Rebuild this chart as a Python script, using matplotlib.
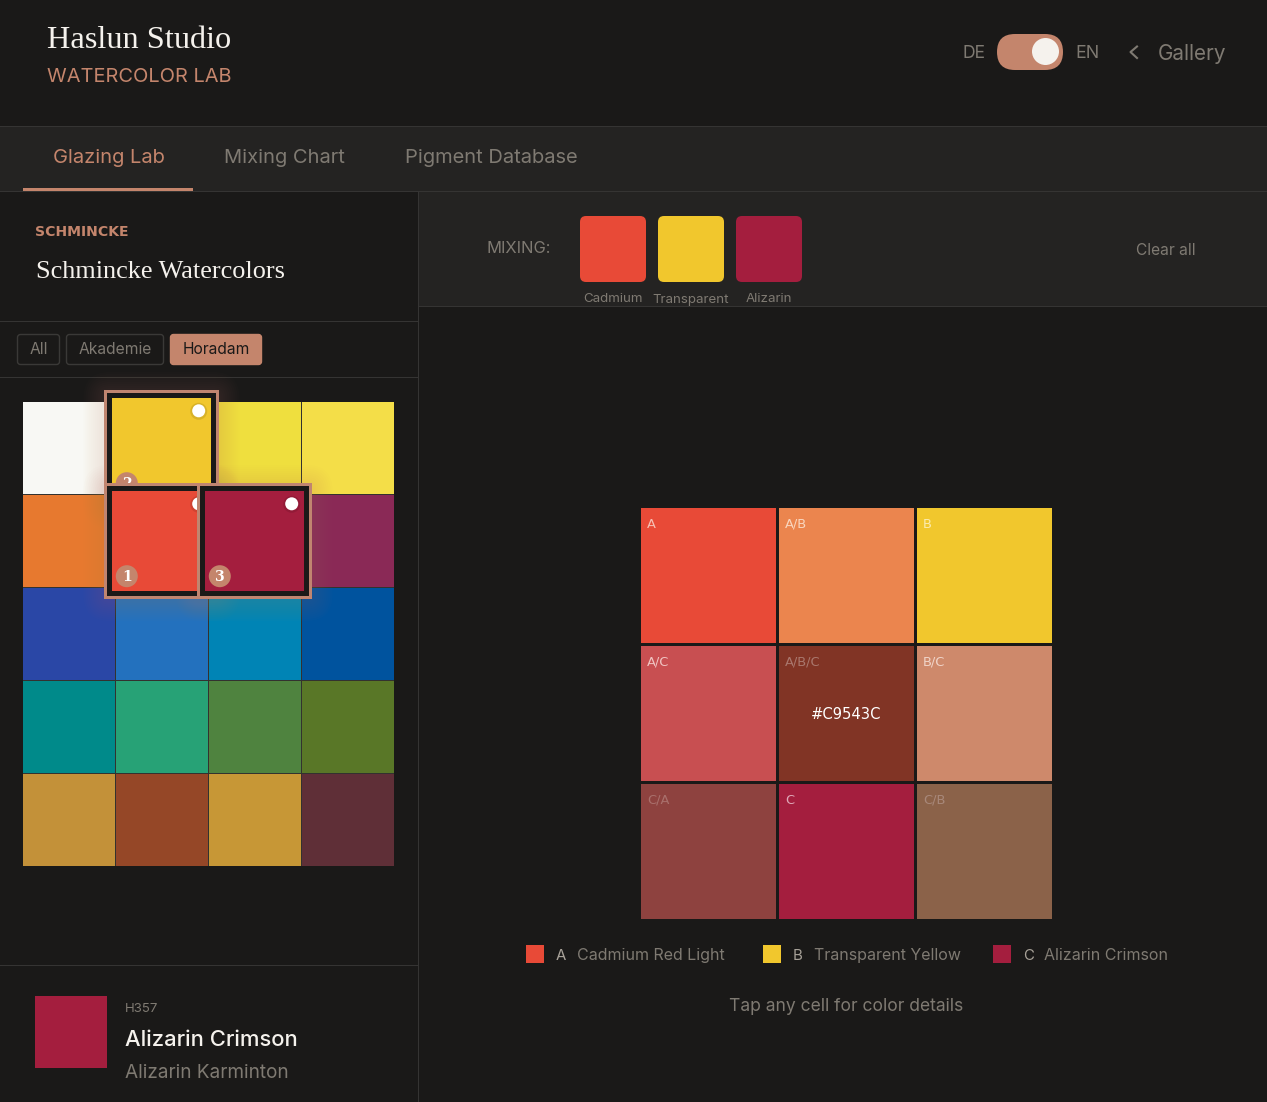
import matplotlib
matplotlib.use('Agg')
import matplotlib.pyplot as plt
from matplotlib.patches import Rectangle, FancyBboxPatch, Circle

# pigment grid, row by row
palette_colors = [
    ['#F8F8F4', '#F1C72D', '#EFDF3E', '#F4DE48'],
    ['#E7792F', '#E84A37', '#A41E3E', '#8A2956'],
    ['#2A47A6', '#2371BE', '#0084B5', '#00539E'],
    ['#008A8A', '#27A276', '#4F833F', '#597727'],
    ['#C39139', '#954727', '#C79736', '#5F2F37'],
]
# (row, col, badge number), in drawing order
selected = [(0, 1, '2'), (1, 1, '1'), (1, 2, '3')]

matrix_labels = [['A', 'A/B', 'B'], ['A/C', 'A/B/C', 'B/C'], ['C/A', 'C', 'C/B']]
matrix_colors = [
    ['#E84A37', '#EB854E', '#F1C72D'],
    ['#C84F51', '#813425', '#CE896B'],
    ['#8E423F', '#A41E3E', '#8B6249'],
]
matrix_label_colors = [
    ['#F6C0B4', '#F9D6BE', '#FBEBAE'],
    ['#F0C4C2', '#A9776D', '#F0D4C8'],
    ['#A9706C', '#DFA8B8', '#A8887A'],
]
mix_colors = ['#E84A37', '#F1C72D', '#A41E3E']
mix_names = ['Cadmium', 'Transparent', 'Alizarin']
legend_keys = ['A', 'B', 'C']
legend_names = ['Cadmium Red Light', 'Transparent Yellow', 'Alizarin Crimson']
tab_names = ['Glazing Lab', 'Mixing Chart', 'Pigment Database']
filter_names = ['All', 'Akademie', 'Horadam']

BG = '#1A1918'
BAND = '#242322'
LINE = '#353433'
ACCENT = '#C4856C'
MUTED = '#7F7A72'
SANS = 'Inter'
SERIF = 'Liberation Serif'

fig = plt.figure(figsize=(12.67, 11.02), dpi=100, facecolor=BG)
ax = fig.add_axes([0, 0, 1, 1])
ax.set_xlim(0, 1267)
ax.set_ylim(1102, 0)
ax.axis('off')


def rect(x0, y0, x1, y1, color, z=1, alpha=None):
    ax.add_patch(Rectangle((x0, y0), x1 - x0, y1 - y0, fc=color, ec='none', zorder=z, alpha=alpha))


def rounded(x0, y0, x1, y1, r, fc, ec='none', lw=0, z=2, alpha=None):
    ax.add_patch(FancyBboxPatch((x0 + r, y0 + r), x1 - x0 - 2 * r, y1 - y0 - 2 * r,
                                boxstyle='round,pad=%f,rounding_size=%f' % (r, r),
                                fc=fc, ec=ec, lw=lw, zorder=z, alpha=alpha))


def label(x, y, s, px, color, ha='left', family=SANS, z=5, **kw):
    # va=center sits a little high for these fonts
    ax.text(x, y + 1.5, s, fontsize=px * 0.72, color=color, ha=ha, va='center', family=family, zorder=z, **kw)


# bands and divider lines
rect(0, 127, 1267, 191, BAND)
rect(419, 192, 1267, 306, BAND)
rect(0, 126, 1267, 127, LINE)
rect(0, 191, 1267, 192, LINE)
rect(418, 192, 419, 1102, LINE)
rect(419, 306, 1267, 307, LINE)
rect(0, 321, 418, 322, LINE)
rect(0, 377, 418, 378, LINE)
rect(0, 965, 418, 966, LINE)

# header
label(47, 39, 'Haslun Studio', 32.4, '#F5F2ED', family=SERIF)
label(47, 76, 'WATERCOLOR LAB', 20, ACCENT)
label(963, 52, 'DE', 17.5, MUTED)
label(1075, 52, 'EN', 17.8, MUTED)
rounded(997, 34, 1063, 70, 18, ACCENT)
ax.add_patch(Circle((1045.5, 51.5), 13.5, fc='#F5F2ED', ec='none', zorder=3))
ax.plot([1137, 1130.5, 1137], [46.5, 52, 58], color=MUTED, lw=1.5, zorder=3)
label(1158, 52, 'Gallery', 20.7, MUTED)

# tabs
for x, name, col in zip([53, 224, 405], tab_names, [ACCENT, MUTED, MUTED]):
    label(x, 156.5, name, 20.1, col)
rect(23, 188, 193, 191, ACCENT, z=3)

# left panel heading and filters
label(35, 231, 'SCHMINCKE', 14, ACCENT, family='DejaVu Sans', fontweight='bold')
label(36, 271, 'Schmincke Watercolors', 26.2, '#F5F2ED', family=SERIF)
filter_x = [(17, 60), (66, 164), (170, 262)]
for (x0, x1), name in zip(filter_x, filter_names):
    active = name == 'Horadam'
    rounded(x0 + .5, 334.5, x1 - .5, 364.5, 3, ACCENT if active else BG,
            ec=ACCENT if active else '#3A3937', lw=1)
    label((x0 + x1) / 2, 348.5, name, 15.6, BG if active else MUTED, ha='center')

# pigment grid
CELL, STEP, GX, GY = 92, 93, 23, 402
rect(GX, GY, GX + 4 * STEP - 1, GY + 5 * STEP - 1, '#33322F', z=1.5)
for r, row in enumerate(palette_colors):
    for c, col in enumerate(row):
        rect(GX + c * STEP, GY + r * STEP, GX + c * STEP + CELL, GY + r * STEP + CELL, col, z=2)

# soft glow behind the selected swatches
for r, c, num in selected:
    cx = GX + c * STEP + CELL / 2 - 0.5
    cy = GY + r * STEP + CELL / 2
    for pad in range(60, 80, 2):
        rounded(cx - pad, cy - pad + 2, cx + pad, cy + pad + 2, pad - 52, ACCENT, z=3, alpha=0.016)

# selected swatches sit on top, scaled up with a ring
for k, (r, c, num) in enumerate(selected):
    z = 4 + k
    cx = GX + c * STEP + CELL / 2 - 0.5
    cy = GY + r * STEP + CELL / 2
    half = 49.7
    rect(cx - half - 8, cy - half - 8, cx + half + 8, cy + half + 8, '#C08570', z=z)
    rect(cx - half - 5, cy - half - 5, cx + half + 5, cy + half + 5, BG, z=z + .1)
    rect(cx - half, cy - half, cx + half, cy + half, palette_colors[r][c], z=z + .2)
    ax.add_patch(Circle((cx + half - 12.5, cy - half + 13), 8.5, fc='#000000', ec='none', alpha=.1, zorder=z + .3))
    ax.add_patch(Circle((cx + half - 12.5, cy - half + 12.5), 6.5, fc='white', ec='none', zorder=z + .4))
    ax.add_patch(Circle((cx - half + 15, cy + half - 14.5), 11, fc=ACCENT, ec='none', zorder=z + .5))
    label(cx - half + 15, cy + half - 15, num, 14, 'white', ha='center', family='DejaVu Serif',
          fontweight='bold', z=z + .6)

# selected pigment details
rect(35, 996, 107, 1068, mix_colors[2])
label(125, 1007, 'H357', 13.2, MUTED)
label(125, 1038, 'Alizarin Crimson', 22, '#F5F2ED', fontweight='medium')
label(125, 1072, 'Alizarin Karminton', 19, MUTED)

# mixing bar
label(487, 247, 'MIXING:', 16.5, MUTED)
for i, (col, name) in enumerate(zip(mix_colors, mix_names)):
    x0 = 580 + i * 78
    rounded(x0, 216, x0 + 66, 282, 6, col)
    label(x0 + 33, 298, name, 13.3, MUTED, ha='center')
label(1136, 249, 'Clear all', 15.5, MUTED)

# glazing matrix
MCELL, MSTEP, MX, MY = 135, 138, 641, 508
for r in range(3):
    for c in range(3):
        x0 = MX + c * MSTEP
        y0 = MY + r * MSTEP
        rect(x0, y0, x0 + MCELL, y0 + MCELL, matrix_colors[r][c])
        label(x0 + 6, y0 + 14.5, matrix_labels[r][c], 13, matrix_label_colors[r][c], family='DejaVu Sans')
label(MX + MSTEP + MCELL / 2, MY + MSTEP + MCELL / 2 - 0.5, '#C9543C', 14.8, 'white', ha='center',
      family='DejaVu Sans')

# legend
legend_x = [526, 763, 993]
for x, key, name, col in zip(legend_x, legend_keys, legend_names, mix_colors):
    rect(x, 945, x + 18, 963, col)
    label(x + 30, 954, key, 15, '#A8A299')
    label(x + 51, 954, name, 16, MUTED)
label(846.5, 1005, 'Tap any cell for color details', 17.5, MUTED, ha='center')

fig.savefig('out.png', dpi=100, facecolor=BG)
